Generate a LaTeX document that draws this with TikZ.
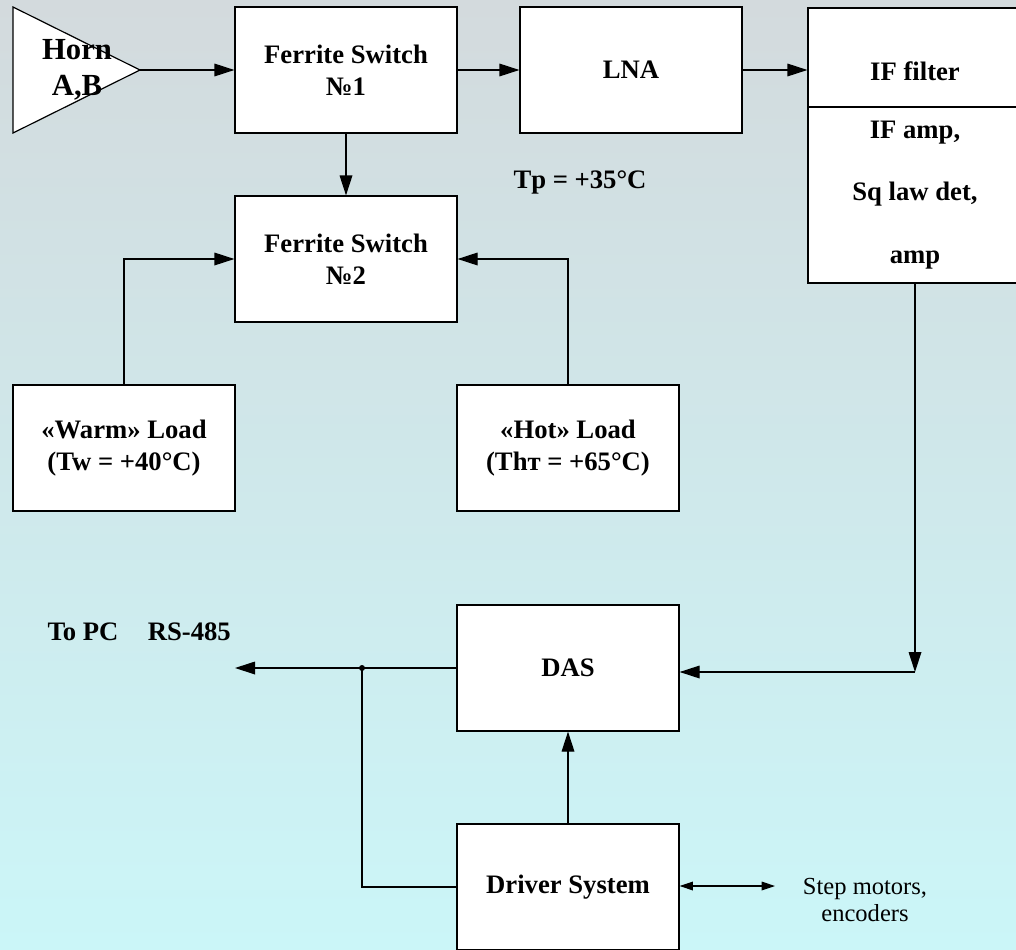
\documentclass[tikz,border=0pt]{standalone}
\usepackage{fontspec}
\setmainfont{Liberation Serif}
\usetikzlibrary{arrows.meta}
\definecolor{bgtop}{RGB}{211,218,221}
\definecolor{bgbot}{RGB}{203,246,248}
\begin{document}
\begin{tikzpicture}[x=0.75pt,y=-0.75pt,line width=0.9pt,
  block/.style={draw, fill=white, minimum width=166.5pt, minimum height=94.5pt, inner sep=0pt, align=center, font=\fontsize{20}{24}\selectfont\bfseries},
  label/.style={inner sep=0pt, align=center, font=\fontsize{20}{24}\selectfont\bfseries},
  arr/.style={-{Triangle[length=15pt,width=9.5pt]}},
  darr/.style={{Triangle[length=10pt,width=6.5pt]}-{Triangle[length=10pt,width=6.5pt]}}]
% background
\shade[top color=bgtop, bottom color=bgbot] (0,0) rectangle (1016,949);
\useasboundingbox (0,0) rectangle (1016,949);
% horn
\draw[fill=white] (13,7) -- (140,70) -- (13,133) -- cycle;
\coordinate (horntip) at (140,70);
\node[label, font=\fontsize{23}{27}\selectfont\bfseries] (horn) at (77,70) {Horn\\A,B};
% blocks
\node[block] (fs1) at (346,70) {Ferrite Switch\\№1};
\node[block] (lna) at (631,70) {LNA};
\node[block] (fs2) at (346,259) {Ferrite Switch\\№2};
\node[block] (warm) at (124,448) {«Warm» Load\\(Tw = +40°C)};
\node[block] (hot) at (568,448) {«Hot» Load\\(Thт = +65°C)};
\node[block] (das) at (568,668) {DAS};
\node[block] (driver) at (568,887) {Driver System};
% IF chain
\node[block, minimum width=160.5pt, minimum height=74.25pt, text height=34pt, text depth=0pt] (iffilter) at (915,57.5) {IF filter};
\node[block, minimum width=160.5pt, minimum height=132pt, font=\fontsize{20}{47}\selectfont\bfseries] (ifamp) at (915,195) {IF amp,\\Sq law det,\\amp};
% texts
\node[label] (tp) at (580,182) {Tp = +35°C};
\node[label, anchor=west] (topc) at (47,632) {To PC\hspace{22pt}RS-485};
\node[align=center, inner sep=0pt, font=\fontsize{18.4}{20}\selectfont] (motors) at (865,900) {Step motors,\\encoders};
\coordinate (pcend) at (235,667);
\coordinate (branch) at (362,667);
\coordinate (turn) at (915,672);
\coordinate (motend) at (775,886);
% connectors
\draw[arr] (horntip) -- (fs1.west);
\draw[arr] (fs1) -- (lna);
\draw[arr] (lna.east) -- (lna -| iffilter.west);
\draw[arr] (fs1) -- (fs2);
\draw[arr] (warm.north) |- (fs2.west);
\draw[arr] (hot.north) |- (fs2.east);
\draw[arr] (ifamp.south) -- (turn);
\draw[arr] (turn) -- (turn -| das.east);
\draw[arr] (das.west) -- (pcend |- das.west);
\draw (branch |- das.west) |- (driver.west);
\fill (branch |- das.west) circle (3);
\draw[arr] (driver) -- (das);
\draw[darr] (driver.east |- motend) -- (motend);
\end{tikzpicture}
\end{document}
